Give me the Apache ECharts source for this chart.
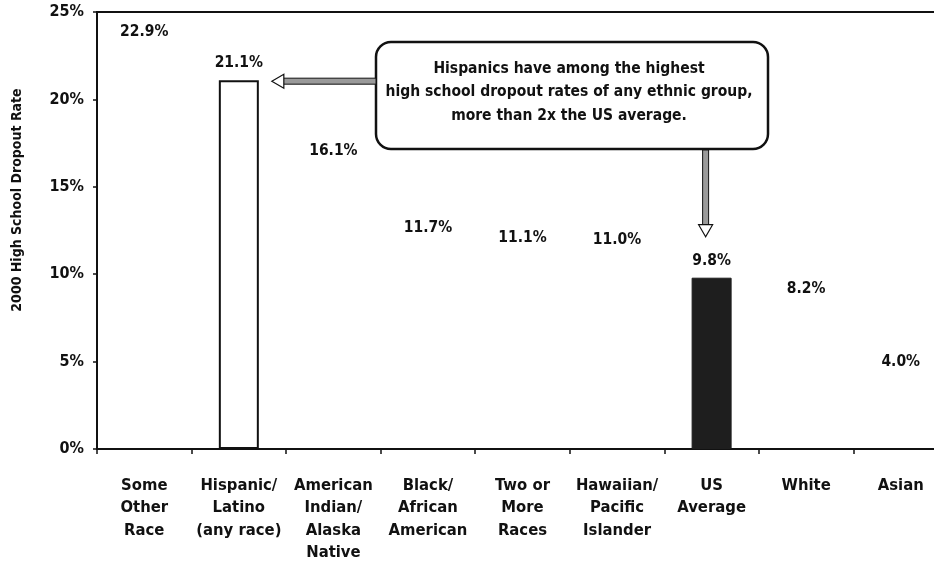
<!DOCTYPE html>
<html>
<head>
<meta charset="utf-8">
<script src="https://cdn.jsdelivr.net/npm/echarts@6/dist/echarts.min.js"></script>
<style>
  html, body { margin: 0; padding: 0; background: #fff; }
  #chart { width: 934px; height: 561px; }
</style>
</head>
<body>
<div id="chart"></div>
<script>
// Dropout rate by race / ethnicity, 2000
const categories = [
  'Some\nOther\nRace',
  'Hispanic/\nLatino\n(any race)',
  'American\nIndian/\nAlaska\nNative',
  'Black/\nAfrican\nAmerican',
  'Two or\nMore\nRaces',
  'Hawaiian/\nPacific\nIslander',
  'US\nAverage',
  'White',
  'Asian'
];
const dropoutRates = [22.9, 21.1, 16.1, 11.7, 11.1, 11.0, 9.8, 8.2, 4.0];
const yTicks = { min: 0, max: 25, interval: 5 };
const highlightIndex = 1;   // Hispanic/Latino
const averageIndex = 6;     // US Average
const calloutLines = [
  'Hispanics have among the highest',
  'high school dropout rates of any ethnic group,',
  'more than 2x the US average.'
];

const FONT = "'Liberation Sans Narrow', 'DejaVu Sans Condensed', sans-serif";
const INK = '#111';

const chart = echarts.init(document.getElementById('chart'), null, { renderer: 'canvas' });

function barStyle(i) {
  if (i === highlightIndex) return { color: '#fff', borderColor: INK, borderWidth: 2 };
  if (i === averageIndex) return { color: '#1e1e1e', borderColor: '#1e1e1e', borderWidth: 1 };
  return { color: 'rgba(0,0,0,0)', borderWidth: 0 };
}

const option = {
  animation: false,
  backgroundColor: '#fff',
  grid: {
    left: 97, top: 12, width: 851, height: 437,
    outerBoundsMode: 'none',
    show: true, borderColor: INK, borderWidth: 2, backgroundColor: 'rgba(0,0,0,0)'
  },
  xAxis: {
    type: 'category',
    data: categories,
    axisLine: { lineStyle: { color: INK, width: 2 } },
    axisTick: { show: true, length: 5, lineStyle: { color: INK, width: 1.5 } },
    axisLabel: {
      interval: 0, color: INK, fontFamily: FONT, fontSize: 16.5, fontWeight: 'bold',
      lineHeight: 22.5, margin: 25
    }
  },
  yAxis: {
    type: 'value',
    min: yTicks.min, max: yTicks.max, interval: yTicks.interval,
    axisLine: { show: true, lineStyle: { color: INK, width: 2 } },
    axisTick: { show: true, length: 4, lineStyle: { color: INK, width: 1.5 } },
    splitLine: { show: false },
    axisLabel: {
      formatter: '{value}%', color: INK, fontFamily: FONT, fontSize: 16,
      fontWeight: 'bold', margin: 13, padding: [6, 0, 0, 0]
    }
  },
  series: [{
    type: 'bar',
    barWidth: 40,
    data: dropoutRates.map((v, i) => ({ value: v, itemStyle: barStyle(i) })),
    label: {
      show: true, position: 'top', distance: 9,
      formatter: p => p.value.toFixed(1) + '%',
      color: INK, fontFamily: FONT, fontSize: 15.5, fontWeight: 'bold'
    }
  }]
};
chart.setOption(option);

// Callout box with arrows to the Hispanic bar and the US average
const box = { x: 376, y: 42, w: 392, h: 107, r: 15 };
const hisp = chart.convertToPixel({ xAxisIndex: 0, yAxisIndex: 0 }, [highlightIndex, dropoutRates[highlightIndex]]);
const avg = chart.convertToPixel({ xAxisIndex: 0, yAxisIndex: 0 }, [averageIndex, dropoutRates[averageIndex]]);

const leftTipX = hisp[0] + 33;
const leftY = hisp[1] + 1;
const downX = avg[0] - 6;
const downTipY = avg[1] - 41;

const graphics = [
  // y axis title
  {
    type: 'text', x: 17, y: 200, rotation: Math.PI / 2,
    style: {
      text: '2000 High School Dropout Rate', fill: INK, font: 'bold 14px ' + FONT,
      align: 'center', verticalAlign: 'middle'
    }
  },
  // callout box
  {
    type: 'rect',
    shape: { x: box.x, y: box.y, width: box.w, height: box.h, r: box.r },
    style: { fill: '#fff', stroke: INK, lineWidth: 2.5 }
  },
  {
    type: 'text', x: box.x + box.w / 2 - 3, y: 57,
    style: {
      text: calloutLines.join('\n'), fill: INK, font: 'bold 15.5px ' + FONT,
      align: 'center', verticalAlign: 'top', lineHeight: 23.5
    }
  },
  // left arrow shaft
  {
    type: 'rect',
    shape: { x: leftTipX + 11, y: leftY - 3, width: box.x - leftTipX - 11, height: 6 },
    style: { fill: '#9a9a9a', stroke: INK, lineWidth: 1 }
  },
  // left arrow head
  {
    type: 'polygon',
    shape: { points: [[leftTipX, leftY], [leftTipX + 12, leftY - 7], [leftTipX + 12, leftY + 7]] },
    style: { fill: '#fff', stroke: INK, lineWidth: 1.2 }
  },
  // down arrow shaft
  {
    type: 'rect',
    shape: { x: downX - 3, y: box.y + box.h + 1, width: 6, height: downTipY - 11 - (box.y + box.h + 1) },
    style: { fill: '#9a9a9a', stroke: INK, lineWidth: 1 }
  },
  // down arrow head
  {
    type: 'polygon',
    shape: { points: [[downX, downTipY], [downX - 7, downTipY - 12], [downX + 7, downTipY - 12]] },
    style: { fill: '#fff', stroke: INK, lineWidth: 1.2 }
  }
];
chart.setOption({ graphic: graphics });
</script>
</body>
</html>
